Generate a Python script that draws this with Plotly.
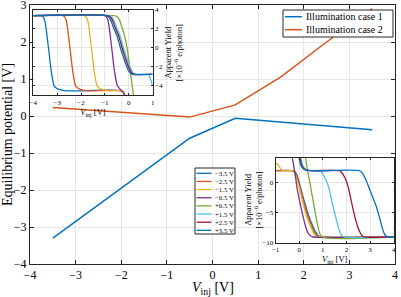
import plotly.graph_objects as go

FONT = "Liberation Serif"
AX = "#262626"
GRID = "#e6e6e6"
COLORS = ["#0072BD", "#D95319", "#EDB120", "#7E2F8E", "#77AC30", "#4DBEEE", "#A2142F", "#0072BD"]

# ---------------- main chart data ----------------
v_inj = [-3.5, -2.5, -1.5, -0.5, 0.5, 1.5, 2.5, 3.5]
eq_case1 = [-3.30, -2.40, -1.50, -0.60, -0.06, -0.16, -0.27, -0.37]
eq_case2 = [0.23, 0.14, 0.06, -0.03, 0.30, 1.06, 2.00, 2.90]
series_names = ["Illumination case 1", "Illumination case 2"]
inset_labels = ["\u22123.5 V", "\u22122.5 V", "\u22121.5 V", "\u22120.5 V",
                "+0.5 V", "+1.5 V", "+2.5 V", "+3.5 V"]

# ---------------- inset 1 (top-left) curves: apparent yield vs V_inj ----------------
in1_m35_x = [-4.0, -3.66, -3.58, -3.52, -3.45, -3.35, -3.25, -3.14, -3.08, -2.95, -2.8, -2.6, -0.3, -0.22, -0.15, -0.08]
in1_m35_y = [3.4, 3.4, 3.25, 2.9, 1.8, -0.3, -2.4, -3.9, -4.15, -4.35, -4.45, -4.52, -4.52, -4.7, -5.1, -5.6]
in1_m25_x = [-4.0, -2.76, -2.68, -2.62, -2.55, -2.45, -2.35, -2.24, -2.18, -2.05, -1.9, -1.7, -0.3, -0.22, -0.15, -0.08]
in1_m25_y = [3.4, 3.4, 3.25, 2.9, 1.8, -0.3, -2.4, -3.9, -4.15, -4.35, -4.45, -4.52, -4.52, -4.7, -5.1, -5.6]
in1_m15_x = [-4.0, -1.86, -1.78, -1.72, -1.65, -1.55, -1.45, -1.34, -1.28, -1.15, -1.0, -0.8, -0.3, -0.22, -0.15, -0.08]
in1_m15_y = [3.4, 3.4, 3.25, 2.9, 1.8, -0.3, -2.4, -3.9, -4.15, -4.35, -4.45, -4.52, -4.52, -4.7, -5.1, -5.6]
in1_m05_x = [-4.0, -1.0, -0.93, -0.87, -0.8, -0.7, -0.6, -0.49, -0.43, -0.36, -0.3, -0.22, -0.15, -0.08]
in1_m05_y = [3.4, 3.4, 3.25, 2.9, 1.8, -0.3, -2.4, -3.9, -4.15, -4.35, -4.5, -4.7, -5.1, -5.6]
in1_p05_x = [-4.0, -0.62, -0.5, -0.4, -0.29, -0.18, -0.08, 0.0, 0.06, 0.11, 0.15, 0.19, 0.23]
in1_p05_y = [3.4, 3.4, 3.3, 3.0, 2.2, 1.3, 0.1, -1.2, -2.4, -3.3, -4.1, -4.8, -5.5]
in1_p15_x = [-4.0, -0.82, -0.72, -0.62, -0.52, -0.37, -0.23, -0.09, 0.05, 0.16, 0.26, 0.78, 0.86, 0.93, 1.0]
in1_p15_y = [3.4, 3.4, 3.25, 2.9, 2.2, 1.3, 0.1, -1.0, -2.0, -2.55, -2.77, -2.77, -2.95, -3.4, -3.93]
in1_p25_x = [-4.0, -0.88, -0.78, -0.68, -0.58, -0.43, -0.29, -0.15, -0.01, 0.10, 0.20, 1.0]
in1_p25_y = [3.4, 3.4, 3.25, 2.9, 2.2, 1.3, 0.1, -1.0, -2.0, -2.55, -2.77, -2.77]
in1_p35_x = [-4.0, -0.95, -0.85, -0.75, -0.65, -0.5, -0.36, -0.22, -0.08, 0.03, 0.13, 1.0]
in1_p35_y = [3.4, 3.4, 3.25, 2.9, 2.2, 1.3, 0.1, -1.0, -2.0, -2.55, -2.77, -2.77]

# ---------------- inset 2 (bottom-right) curves ----------------
in2_m35_x = [-1.0, -0.3, -0.2, -0.1, 0.0, 0.12, 0.25, 0.4, 0.55, 0.68, 0.8, 0.9, 4.0]
in2_m35_y = [2.0, 2.0, 1.9, 1.3, 0.0, -1.8, -3.6, -5.5, -7.0, -8.1, -8.8, -9.0, -9.0]
in2_m25_x = [-1.0, -0.33, -0.23, -0.13, -0.03, 0.09, 0.21, 0.35, 0.5, 0.62, 0.74, 0.84, 4.0]
in2_m25_y = [2.0, 2.0, 1.9, 1.3, 0.0, -1.8, -3.6, -5.5, -7.0, -8.1, -8.8, -9.0, -9.0]
in2_m15_x = [-1.0, -0.9, -0.8, -0.72, -0.6, -0.36, -0.26, -0.16, -0.06, 0.06, 0.17, 0.3, 0.45, 0.57, 0.69, 0.79, 4.0]
in2_m15_y = [3.25, 3.0, 2.4, 2.05, 2.0, 2.0, 1.9, 1.3, 0.0, -1.8, -3.6, -5.5, -7.0, -8.1, -8.8, -9.0, -9.0]
in2_m05_x = [-0.4, -0.29, -0.18, -0.08, 0.03, 0.13, 0.24, 0.35, 0.46, 0.56, 4.0]
in2_m05_y = [6.0, 4.0, 1.5, -1.2, -3.3, -5.1, -6.9, -8.2, -8.8, -9.0, -9.0]
in2_p05_x = [0.15, 0.27, 0.35, 0.45, 0.55, 0.65, 0.75, 0.85, 0.95, 4.0]
in2_p05_y = [6.0, 4.0, 2.0, 0.0, -2.2, -4.4, -6.5, -8.2, -9.0, -9.0]
in2_p15_x = [-0.05, 0.08, 0.14, 0.28, 0.5, 0.84, 0.95, 1.1, 1.25, 1.4, 1.55, 1.67, 1.77, 1.87, 4.0]
in2_p15_y = [6.0, 4.0, 2.95, 2.2, 2.0, 2.0, 1.7, 0.7, -0.8, -3.5, -5.8, -7.6, -8.6, -9.0, -9.0]
in2_p25_x = [-0.1, 0.04, 0.1, 0.24, 0.46, 1.69, 1.8, 1.95, 2.08, 2.2, 2.35, 2.5, 2.62, 2.74, 4.0]
in2_p25_y = [6.0, 4.0, 2.95, 2.2, 2.0, 2.0, 1.7, 0.7, -0.8, -3.0, -5.6, -7.6, -8.6, -9.0, -9.0]
in2_p35_x = [-0.14, 0.0, 0.06, 0.2, 0.42, 2.54, 2.65, 2.8, 2.95, 3.1, 3.25, 3.4, 3.52, 3.62, 3.72, 4.0]
in2_p35_y = [6.0, 4.0, 2.95, 2.2, 2.0, 2.0, 1.7, 0.7, -0.8, -2.3, -3.8, -5.8, -7.6, -8.6, -9.0, -9.0]

inset1 = [(in1_m35_x, in1_m35_y), (in1_m25_x, in1_m25_y), (in1_m15_x, in1_m15_y), (in1_m05_x, in1_m05_y),
          (in1_p05_x, in1_p05_y), (in1_p15_x, in1_p15_y), (in1_p25_x, in1_p25_y), (in1_p35_x, in1_p35_y)]
inset2 = [(in2_m35_x, in2_m35_y), (in2_m25_x, in2_m25_y), (in2_m15_x, in2_m15_y), (in2_m05_x, in2_m05_y),
          (in2_p05_x, in2_p05_y), (in2_p15_x, in2_p15_y), (in2_p25_x, in2_p25_y), (in2_p35_x, in2_p35_y)]

fig = go.Figure()

# main lines
for name, ys, col in zip(series_names, [eq_case1, eq_case2], COLORS[:2]):
    fig.add_trace(go.Scatter(x=v_inj, y=ys, mode="lines", name=name,
                             line=dict(color=col, width=1.5), showlegend=False,
                             xaxis="x", yaxis="y"))

# inset traces
for (xs, ys), col, lab in zip(inset1, COLORS, inset_labels):
    fig.add_trace(go.Scatter(x=xs, y=ys, mode="lines", name=lab,
                             line=dict(color=col, width=1.3, shape="spline", smoothing=0.8),
                             showlegend=False, xaxis="x2", yaxis="y2"))
for (xs, ys), col, lab in zip(inset2, COLORS, inset_labels):
    fig.add_trace(go.Scatter(x=xs, y=ys, mode="lines", name=lab,
                             line=dict(color=col, width=1.3, shape="spline", smoothing=0.8),
                             showlegend=False, xaxis="x3", yaxis="y3"))

ax_common = dict(showline=True, linecolor=AX, linewidth=1, mirror="ticks", ticks="inside",
                 tickcolor=AX, showgrid=True, gridcolor=GRID, gridwidth=1, zeroline=False,
                 automargin=False, ticklabeloverflow="allow")

ylab = "Apparent Yield<br>[\u00d710<sup>\u22126</sup> e/photon]"
xlab = "<i>V</i><sub>inj</sub> [V]"

fig.update_layout(
    template="none",
    width=401, height=297,
    margin=dict(l=30, r=6, t=5, b=33, autoexpand=False),
    paper_bgcolor="white", plot_bgcolor="white",
    font=dict(family=FONT, color="#000000"),
    showlegend=False,
    xaxis=dict(domain=[0, 1], range=[-4, 4], dtick=1, ticklen=4, tickfont=dict(size=12), **ax_common),
    yaxis=dict(domain=[0, 1], range=[-4, 3], dtick=1, ticklen=4, tickfont=dict(size=12),
               title=dict(text="Equilibrium potential [V]", font=dict(size=14), standoff=6), **ax_common),
    xaxis2=dict(domain=[0.009, 0.336], anchor="y2", range=[-4, 1], dtick=1, ticklen=2,
                tickfont=dict(size=7), title=dict(text=xlab, font=dict(size=8.5), standoff=1), **ax_common),
    yaxis2=dict(domain=[0.651, 0.981], anchor="x2", side="right", range=[-5, 4], dtick=2, ticklen=2,
                tickfont=dict(size=7), title=dict(text=ylab, font=dict(size=8.5), standoff=2), **ax_common),
    xaxis3=dict(domain=[0.673, 0.9964], anchor="y3", range=[-1, 4], dtick=1, ticklen=2,
                tickfont=dict(size=7), title=dict(text=xlab, font=dict(size=8.5), standoff=1), **ax_common),
    yaxis3=dict(domain=[0.082, 0.408], anchor="x3", range=[-10, 4.05], tickvals=[-10, -5, 0], ticklen=2,
                tickfont=dict(size=7), **ax_common),
)

# ---------- legends / titles drawn in paper coords ----------
PW, PH, L, B = 401 - 30 - 6, 297 - 5 - 33, 30, 33


def px(xp):
    return (xp - L) / PW


def py(yp):
    return (297 - B - yp) / PH


shapes = []
annos = []
# main x title
annos.append(dict(xref="paper", yref="paper", x=px(213), y=py(288.5), text=xlab, showarrow=False,
                  xanchor="center", yanchor="middle", font=dict(size=14, family=FONT, color="black")))
# inset 2 y title (left of its tick labels)
annos.append(dict(xref="paper", yref="paper", x=px(252.5), y=py(200), text=ylab, showarrow=False,
                  textangle=-90, xanchor="center", yanchor="middle",
                  font=dict(size=8.5, family=FONT, color="black")))
# main legend
shapes.append(dict(type="rect", xref="paper", yref="paper", x0=px(283), x1=px(393), y0=py(37), y1=py(10),
                   line=dict(color=AX, width=1), fillcolor="white", layer="above"))
for i, (name, col) in enumerate(zip(series_names, COLORS[:2])):
    yc = 16.7 + i * 13
    shapes.append(dict(type="line", xref="paper", yref="paper", x0=px(285), x1=px(302), y0=py(yc), y1=py(yc),
                       line=dict(color=col, width=1.5), layer="above"))
    annos.append(dict(xref="paper", yref="paper", x=px(304), y=py(yc), text=name, showarrow=False,
                      xanchor="left", yanchor="middle", font=dict(size=10, family=FONT, color="black")))
# inset legend
shapes.append(dict(type="rect", xref="paper", yref="paper", x0=px(195), x1=px(235), y0=py(234), y1=py(168),
                   line=dict(color=AX, width=1), fillcolor="white", layer="above"))
for i, (lab, col) in enumerate(zip(inset_labels, COLORS)):
    yc = 173.3 + i * 8.15
    shapes.append(dict(type="line", xref="paper", yref="paper", x0=px(196.5), x1=px(211.5), y0=py(yc), y1=py(yc),
                       line=dict(color=col, width=1.3), layer="above"))
    annos.append(dict(xref="paper", yref="paper", x=px(213), y=py(yc), text=lab, showarrow=False,
                      xanchor="left", yanchor="middle", font=dict(size=6.8, family=FONT, color="black")))

fig.update_layout(shapes=shapes, annotations=annos)
fig.write_html("out.html", config={"displayModeBar": False},
               post_script="document.body.style.margin='0';document.body.style.overflow='hidden';")
